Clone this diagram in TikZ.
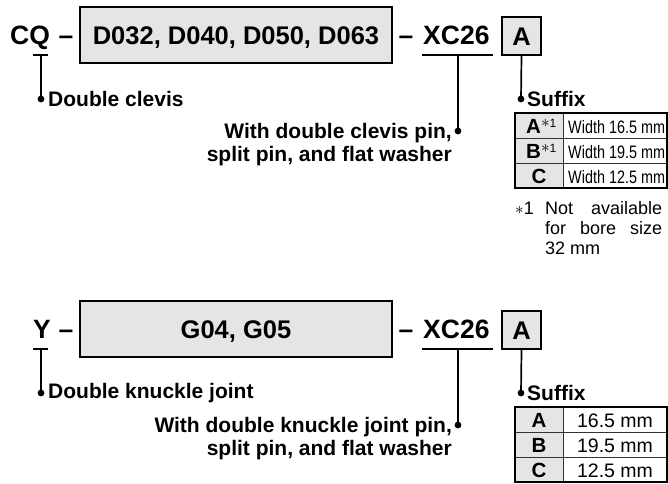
\documentclass[tikz,border=0pt]{standalone}
\usepackage{fontspec}
\setmainfont{Liberation Sans}
\newfontfamily\narrowfont[FakeStretch=0.8]{Liberation Sans}
\usetikzlibrary{positioning}
\definecolor{boxgray}{gray}{0.9}
\newcommand{\noteast}{\raisebox{6pt}{\normalfont\fontsize{12}{12}\selectfont{\fontsize{16}{16}\selectfont$\ast$}1}}

\begin{document}
\begin{tikzpicture}[x=1pt, y=-1pt,
  code/.style={font=\fontsize{26.5}{30}\selectfont\bfseries, inner sep=0pt},
  codebox/.style={draw, line width=1.8pt, fill=boxgray, inner sep=0pt,
    text height=18pt, text depth=0pt, font=\fontsize{25.5}{30}\selectfont\bfseries},
  lbl/.style={font=\fontsize{21}{23}\selectfont\bfseries, inner sep=0pt},
  lead/.style={line width=1.7pt},
  cellkey/.style={font=\fontsize{20.5}{20}\selectfont\bfseries, inner sep=0pt},
  cellval/.style={font=\fontsize{18}{18}\selectfont, inner sep=0pt},
  note/.style={font=\fontsize{18}{18}\selectfont, inner sep=0pt, anchor=base west},
  thinrule/.style={line width=0.8pt, black!80}]
  \useasboundingbox (0,0) rectangle (668,483);

  % ---- first row: CQ - D0xx - XC26 A ----
  \node[code, anchor=base west] (cq) at (10,44) {CQ};
  \node[code, anchor=base] (dashA) at (66,44) {–};
  \node[codebox, minimum width=312pt, minimum height=56pt] (bores) at (236,35) {D032, D040, D050, D063};
  \node[code, anchor=base] (dashB) at (406,44) {–};
  \node[code, anchor=base west] (xc) at (423,44) {XC26};
  \node[codebox, minimum width=39pt, minimum height=38pt] (suf) at (521.5,36) {A};

  \coordinate (cqbar) at (41,55);
  \coordinate (cqdot) at (41,99);
  \coordinate (xcbar) at (458,55);
  \coordinate (xcdot) at (458,131);
  \coordinate (sufdot) at (521,99);
  \draw[lead] (33,55) -- (48,55);
  \draw[lead] (422,55) -- (493,55);
  \draw[lead] (cqbar) -- (cqdot);
  \draw[lead] (xcbar) -- (xcdot);
  \draw[lead] (suf.south) -- (sufdot);
  \fill (cqdot) circle (3.4) (xcdot) circle (3.4) (sufdot) circle (3.4);

  \node[lbl, anchor=west] (clevis) at (48,99) {Double clevis};
  \node[lbl, anchor=north east, align=right] (pins) at (452,123.5)
    {With double clevis pin,\\split pin, and flat washer};
  \node[lbl, anchor=west] (suffix) at (527,99) {Suffix};

  % suffix table (width)
  \fill[boxgray] (515,113) rectangle (563,188);
  \draw[thinrule] (563,113) -- (563,188) (515,138) -- (667,138) (515,163) -- (667,163);
  \draw[line width=1.6pt] (515,113) rectangle (667,188);
  \node[cellkey, anchor=base west] (keyA) at (526,133) {A\noteast};
  \node[cellkey, anchor=base west] (keyB) at (526,158) {B\noteast};
  \node[cellkey, anchor=base] (keyC) at (539,183) {C};
  \node[cellval, anchor=base west] (valA) at (568,133) {\narrowfont Width 16.5 mm};
  \node[cellval, anchor=base west] (valB) at (568,158) {\narrowfont Width 19.5 mm};
  \node[cellval, anchor=base west] (valC) at (568,183) {\narrowfont Width 12.5 mm};

  % footnote
  \node[note] (noteA) at (515,214) {{\fontsize{16}{16}\selectfont$\ast$}1};
  \node[note] (noteB) at (545,214) {\makebox[117pt][s]{Not available}};
  \node[note] (noteC) at (545,234) {\makebox[117pt][s]{for bore size}};
  \node[note] (noteD) at (545,254) {32 mm};

  % ---- second row: Y - G0x - XC26 A ----
  \node[code, anchor=base west] (y) at (33,338) {Y};
  \node[code, anchor=base] (dashC) at (66,338) {–};
  \node[codebox, minimum width=312pt, minimum height=56pt] (joints) at (236,329) {G04, G05};
  \node[code, anchor=base] (dashD) at (406,338) {–};
  \node[code, anchor=base west] (xcb) at (423,338) {XC26};
  \node[codebox, minimum width=39pt, minimum height=38pt] (sufb) at (521.5,330) {A};

  \coordinate (ybar) at (41,349);
  \coordinate (ydot) at (41,393);
  \coordinate (xcbbar) at (458,349);
  \coordinate (xcbdot) at (458,425);
  \coordinate (sufbdot) at (521,393);
  \draw[lead] (33,349) -- (48,349);
  \draw[lead] (422,349) -- (493,349);
  \draw[lead] (ybar) -- (ydot);
  \draw[lead] (xcbbar) -- (xcbdot);
  \draw[lead] (sufb.south) -- (sufbdot);
  \fill (ydot) circle (3.4) (xcbdot) circle (3.4) (sufbdot) circle (3.4);

  \node[lbl, anchor=west] (knuckle) at (48,393) {Double knuckle joint};
  \node[lbl, anchor=north east, align=right] (pinsb) at (452,417.5)
    {With double knuckle joint pin,\\split pin, and flat washer};
  \node[lbl, anchor=west] (suffixb) at (527,393) {Suffix};

  % suffix table (mm)
  \fill[boxgray] (515,407) rectangle (563,482);
  \draw[thinrule] (563,407) -- (563,482) (515,432) -- (667,432) (515,457) -- (667,457);
  \draw[line width=1.6pt] (515,407) rectangle (667,482);
  \node[cellkey, anchor=base] (keyAb) at (539,427) {A};
  \node[cellkey, anchor=base] (keyBb) at (539,452) {B};
  \node[cellkey, anchor=base] (keyCb) at (539,477) {C};
  \node[cellval, font=\fontsize{19.5}{20}\selectfont, anchor=base] (valAb) at (615,427) {16.5 mm};
  \node[cellval, font=\fontsize{19.5}{20}\selectfont, anchor=base] (valBb) at (615,452) {19.5 mm};
  \node[cellval, font=\fontsize{19.5}{20}\selectfont, anchor=base] (valCb) at (615,477) {12.5 mm};
\end{tikzpicture}
\end{document}
